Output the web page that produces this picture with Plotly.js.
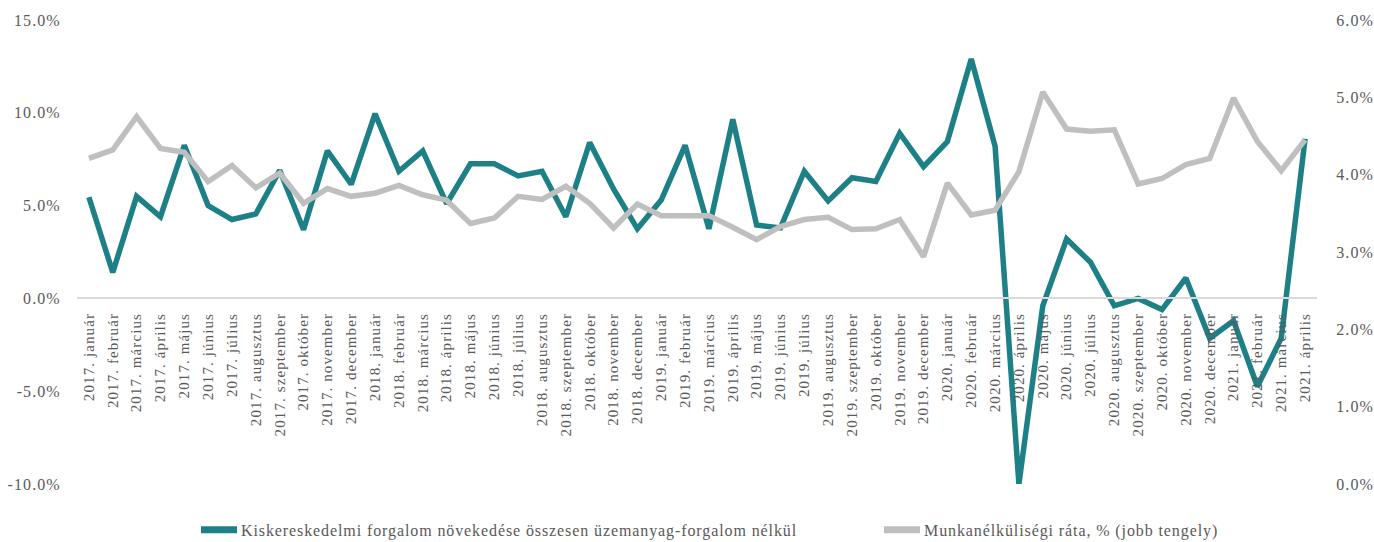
<!DOCTYPE html>
<html>
<head>
<meta charset="utf-8">
<script src="https://cdn.plot.ly/plotly-3.0.1.min.js"></script>
<style>
html,body{margin:0;padding:0;background:#fff;}
#chart{width:1374px;height:542px;}
#chart g.xtick text, #chart g.ytick text, #chart g.y2tick text{letter-spacing:1.1px;}
#chart g.legend text, #chart g.legend2 text{letter-spacing:0.9px;}
</style>
</head>
<body>
<div id="chart"></div>
<script>
const categories = [
"2017. január","2017. február","2017. március","2017. április","2017. május","2017. június","2017. július","2017. augusztus","2017. szeptember","2017. október","2017. november","2017. december",
"2018. január","2018. február","2018. március","2018. április","2018. május","2018. június","2018. július","2018. augusztus","2018. szeptember","2018. október","2018. november","2018. december",
"2019. január","2019. február","2019. március","2019. április","2019. május","2019. június","2019. július","2019. augusztus","2019. szeptember","2019. október","2019. november","2019. december",
"2020. január","2020. február","2020. március","2020. április","2020. május","2020. június","2020. július","2020. augusztus","2020. szeptember","2020. október","2020. november","2020. december",
"2021. január","2021. február","2021. március","2021. április"
];
const retailGrowth = [
5.45,1.4,5.5,4.4,8.25,5.0,4.25,4.55,6.9,3.7,7.95,6.15,
9.95,6.85,7.95,5.1,7.25,7.25,6.6,6.85,4.4,8.4,5.9,3.75,
5.3,8.25,3.75,9.65,3.95,3.8,6.85,5.25,6.5,6.3,8.9,7.1,
8.45,12.9,8.2,-10.0,-0.4,3.2,1.95,-0.4,0.0,-0.6,1.1,-2.15,
-1.2,-4.75,-2.15,8.6
];
const unemployment = [
4.21,4.32,4.75,4.34,4.29,3.91,4.12,3.83,4.02,3.63,3.82,3.72,
3.76,3.86,3.74,3.67,3.37,3.44,3.72,3.68,3.85,3.63,3.31,3.62,
3.47,3.47,3.47,3.32,3.16,3.33,3.42,3.45,3.29,3.30,3.42,2.94,
3.89,3.48,3.54,4.04,5.07,4.59,4.56,4.58,3.88,3.95,4.13,4.21,
4.99,4.43,4.05,4.45
];
const seriesNames = [
"Kiskereskedelmi forgalom növekedése összesen üzemanyag-forgalom nélkül",
"Munkanélküliségi ráta, % (jobb tengely)"
];
const leftTicks = [-10,-5,0,5,10,15];
const rightTicks = [0,1,2,3,4,5,6];

const FONT = "Liberation Serif";
const TXT = "#595959";

const traces = [
  {
    x: categories, y: unemployment, name: seriesNames[1], type: "scatter", mode: "lines",
    yaxis: "y2", line: {color: "#bfbfbf", width: 5.5}, legend: "legend2"
  },
  {
    x: categories, y: retailGrowth, name: seriesNames[0], type: "scatter", mode: "lines",
    line: {color: "#1e8087", width: 5.5}, legend: "legend"
  }
];

const legendBase = {
  orientation: "h", xanchor: "left", y: -0.099, yanchor: "middle",
  font: {family: FONT, size: 16, color: TXT}, bgcolor: "rgba(0,0,0,0)",
  entrywidthmode: "pixels"
};

const layout = {
  width: 1374, height: 542,
  margin: {l: 77, r: 57, t: 20, b: 58, autoexpand: false},
  paper_bgcolor: "#ffffff", plot_bgcolor: "#ffffff",
  font: {family: FONT, size: 16, color: TXT},
  showlegend: true,
  legend: Object.assign({}, legendBase, {x: (201 - 77) / 1240, entrywidth: 620}),
  legend2: Object.assign({}, legendBase, {x: (884 - 77) / 1240, entrywidth: 330}),
  xaxis: {
    type: "category", range: [-0.5, 51.5],
    anchor: "free", position: 0.4009,
    showline: true, linecolor: "#d9d9d9", linewidth: 2,
    showgrid: false, zeroline: false,
    ticks: "outside", ticklen: 8, tickcolor: "rgba(0,0,0,0)",
    tickangle: -90, tickfont: {family: FONT, size: 15, color: TXT},
    automargin: false
  },
  yaxis: {
    domain: [0, 1], range: [-10, 15], tickvals: leftTicks,
    ticktext: leftTicks.map(v => v.toFixed(1) + "%"),
    showgrid: false, zeroline: false, showline: false,
    ticks: "outside", ticklen: 12, tickcolor: "rgba(0,0,0,0)",
    tickfont: {family: FONT, size: 16, color: TXT}, automargin: false
  },
  yaxis2: {
    overlaying: "y", side: "right", range: [0, 6], tickvals: rightTicks,
    ticktext: rightTicks.map(v => v.toFixed(1) + "%"),
    showgrid: false, zeroline: false, showline: false,
    ticks: "outside", ticklen: 15, tickcolor: "rgba(0,0,0,0)",
    tickfont: {family: FONT, size: 16, color: TXT}, automargin: false
  }
};

Plotly.newPlot("chart", traces, layout, {displayModeBar: false, staticPlot: true}).then(function () {
  // lengthen the legend line symbols to match the reference
  document.querySelectorAll("#chart g.legendlines path").forEach(function (p) {
    p.setAttribute("d", "M-18,0h54");
    p.style.strokeWidth = "7px";
  });
});
</script>
</body>
</html>
